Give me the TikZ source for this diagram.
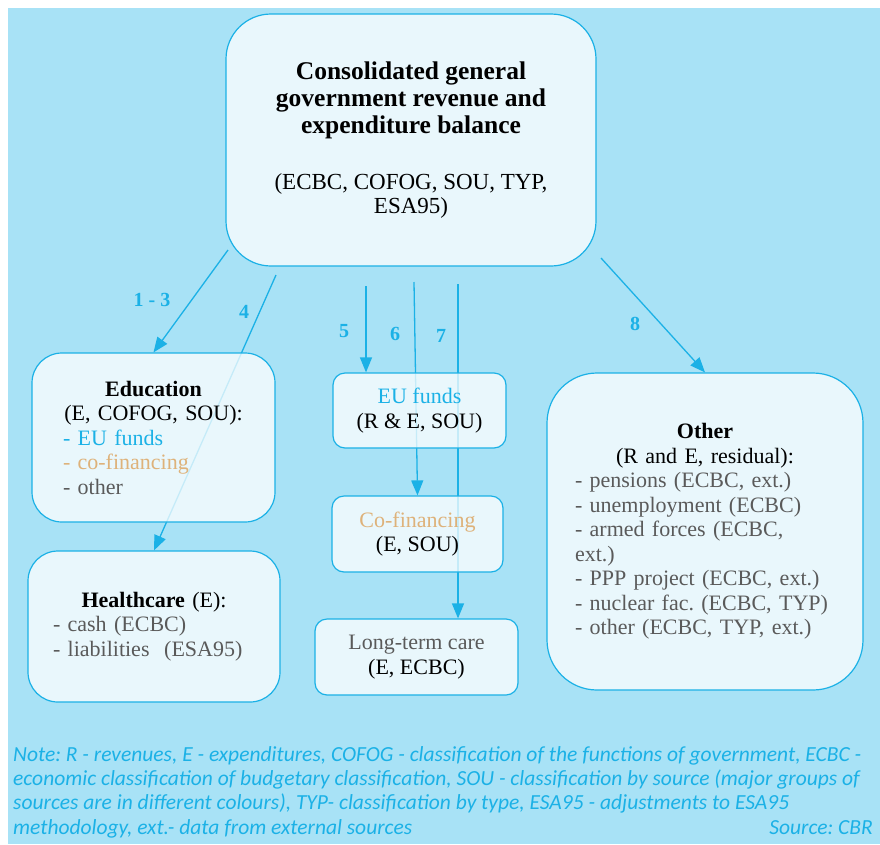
\documentclass[tikz,border=0pt]{standalone}
\usepackage{fontspec}
\setmainfont{Liberation Serif}
\newfontfamily\notefont{Carlito}
\usepackage{tikz}
\usetikzlibrary{arrows.meta, positioning, backgrounds, calc}
\definecolor{skyblue}{RGB}{168,226,246}
\definecolor{cyanline}{RGB}{27,177,230}
\definecolor{cofin}{RGB}{222,178,122}
\definecolor{greytext}{RGB}{90,90,90}
\pgfdeclarelayer{panel}
\pgfsetlayers{panel,background,main}
\tikzstyle{box} = [rectangle, rounded corners = 30pt, draw = cyanline, line width = 1.2pt, fill = white, fill opacity = 0.75, text opacity = 1, inner sep = 0pt, font = \fontsize{22}{24.5}\selectfont]
\tikzstyle{flow} = [-{Triangle[length = 15pt, width = 12pt]}, draw = cyanline, line width = 1.3pt]
\tikzstyle{num} = [text = cyanline, font = \fontsize{20}{22}\selectfont\bfseries]
\frenchspacing

\begin{document}
\begin{tikzpicture}[x = 1pt, y = -1pt]
\useasboundingbox (0,0) rectangle (880,844);
\begin{pgfonlayer}{panel}
\fill[skyblue] (8,8) rectangle (880,844);
\end{pgfonlayer}
% boxes
\node (main) [box, rounded corners = 45pt, minimum width = 370pt, minimum height = 252pt, align = center, font = \fontsize{23}{27}\selectfont] at (411,140) {{\fontsize{25.5}{27}\selectfont\textbf{Consolidated general}}\\{\fontsize{25.5}{27}\selectfont\textbf{government revenue and}}\\{\fontsize{25.5}{27}\selectfont\textbf{expenditure balance}}\\[29pt](ECBC, COFOG, SOU, TYP,\\[-3pt]ESA95)};
\node (edu) [box, minimum width = 243pt, minimum height = 169pt, text width = 181pt, align = left] at (153.5,437.5) {{\centering\textbf{Education}\\(E, COFOG, SOU):\par}\textcolor{cyanline}{- EU funds}\\\textcolor{cofin}{- co-financing}\\\textcolor{greytext}{- other}};
\node (health) [box, minimum width = 252pt, minimum height = 151pt, text width = 202pt, align = left] at (154,626.5) {{\centering\textbf{Healthcare} (E):\par}{\color{greytext}- cash (ECBC)\\- liabilities~ (ESA95)\par}};
\node (eu) [box, rounded corners = 12pt, minimum width = 173pt, minimum height = 75pt, align = center] at (419.5,410.5) {\textcolor{cyanline}{EU funds}\\(R \& E, SOU)};
\node (cofin) [box, rounded corners = 12pt, minimum width = 171pt, minimum height = 76pt, align = center] at (417.5,534) {\textcolor{cofin}{Co-financing}\\(E, SOU)};
\node (ltc) [box, rounded corners = 12pt, minimum width = 203pt, minimum height = 76pt, align = center] at (416.5,657) {\textcolor{greytext}{Long-term care}\\(E, ECBC)};
\node (other) [box, rounded corners = 50pt, minimum width = 316pt, minimum height = 317pt, text width = 260pt, align = left] at (705,531.5) {{\centering\textbf{Other}\\(R and E, residual):\par}{\color{greytext}- pensions (ECBC, ext.)\\- unemployment (ECBC)\\- armed forces (ECBC,\\ext.)\\- PPP project (ECBC, ext.)\\- nuclear fac. (ECBC, TYP)\\- other (ECBC, TYP, ext.)\par}};
% arrows
\coordinate (s13) at (228,250);
\coordinate (s4) at (276,275);
\coordinate (s5) at (366,286);
\coordinate (s6) at (414,282);
\coordinate (s7) at (458,284);
\coordinate (s8) at (601,258);
\begin{scope}[on background layer]
\draw[flow] (s13) -- (edu.north);
\draw[flow] (s4) -- (health.north);
\draw[flow] (s5) -- (s5 |- eu.north);
\draw[flow] (s6) -- (cofin.north);
\draw[flow] (s7) -- (s7 |- ltc.north);
\draw[flow] (s8) -- (other.north);
\end{scope}
\node (n13) [num] at (152,300) {1 - 3};
\node (n4) [num] at (244,312) {4};
\node (n5) [num] at (344,331) {5};
\node (n6) [num] at (395,334) {6};
\node (n7) [num] at (441,336) {7};
\node (n8) [num] at (635,324) {8};
% note
\node (note) [anchor = north west, align = left, inner sep = 0pt, text = cyanline, font = \notefont\fontsize{21.5}{24.3}\selectfont\itshape] at (13,746) {Note: R - revenues, E - expenditures, COFOG - classification of the functions of government, ECBC -\\economic classification of budgetary classification, SOU - classification by source (major groups of\\sources are in different colours), TYP- classification by type, ESA95 - adjustments to ESA95\\methodology, ext.- data from external sources};
\node (source) [anchor = base east, inner sep = 0pt, text = cyanline, font = \notefont\fontsize{21.5}{24}\selectfont\itshape] at (873,834) {Source: CBR};
\end{tikzpicture}
\end{document}
